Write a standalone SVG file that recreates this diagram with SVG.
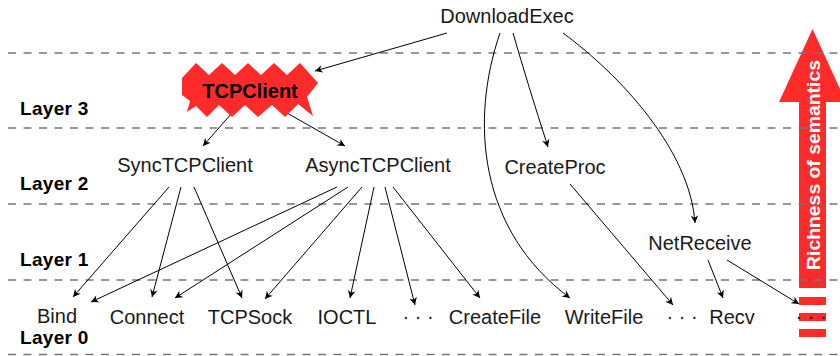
<svg xmlns="http://www.w3.org/2000/svg" width="840" height="356" viewBox="0 0 840 356">
  <defs>
    <marker id="tip" markerUnits="userSpaceOnUse" markerWidth="12" markerHeight="12" viewBox="-9 -6 10 12" refX="0" refY="0" orient="auto">
      <path d="M0,0 L-7.5,-3.8 L-5.3,0 L-7.5,3.8 Z" fill="#000"/>
    </marker>
    <style>
      .lbl { font-family: "Liberation Sans", Arial, sans-serif; font-size: 20px; fill: #1a1a1a; text-anchor: middle; }
      .layer { font-family: "Liberation Sans", Arial, sans-serif; font-size: 19px; font-weight: bold; fill: #000; letter-spacing: 0.3px; }
      .sep { stroke: #777; stroke-width: 1.3; stroke-dasharray: 8 7.5; fill: none; }
      .edge { stroke: #000; stroke-width: 1; fill: none; marker-end: url(#tip); }
      .red { fill: #ff2a2a; }
    </style>
  </defs>

  <rect width="840" height="356" fill="#fff"/>

  <!-- semantics axis: block arrow with a dashed tail -->
  <g id="semantics-axis">
    <polygon class="red" points="812.5,29 846,102 826,102 826,288 799,288 799,102 779,102"/>
    <rect class="red" x="799" y="297" width="27" height="8"/>
    <rect class="red" x="799" y="313" width="27" height="8"/>
    <rect class="red" x="799" y="329" width="27" height="8"/>
  </g>

  <!-- layer separators -->
  <g id="separators">
    <line class="sep" x1="8" y1="53" x2="840" y2="53"/>
    <line class="sep" x1="8" y1="128" x2="840" y2="128"/>
    <line class="sep" x1="8" y1="204" x2="840" y2="204"/>
    <line class="sep" x1="8" y1="280" x2="840" y2="280"/>
    <line class="sep" x1="8" y1="354.5" x2="840" y2="354.5"/>
  </g>

  <text x="820" y="165" transform="rotate(-90 820 165)" font-family="Liberation Sans, Arial, sans-serif" font-size="19" font-weight="bold" fill="#fff" text-anchor="middle" textLength="210" lengthAdjust="spacingAndGlyphs">Richness of semantics</text>

  <!-- layer labels -->
  <g id="layer-labels">
    <text class="layer" x="20" y="115">Layer 3</text>
    <text class="layer" x="20" y="190">Layer 2</text>
    <text class="layer" x="20" y="266">Layer 1</text>
    <text class="layer" x="20" y="344">Layer 0</text>
  </g>

  <!-- connectors -->
  <g id="connectors">
    <path class="edge" d="M447,33 L315,71"/>
    <path class="edge" d="M500,33 C470,120 478,230 570,298"/>
    <path class="edge" d="M513,33 Q528,85 548,147"/>
    <path class="edge" d="M563,33 C620,75 690,150 695,223"/>
    <path class="edge" d="M232,113 L203,146"/>
    <path class="edge" d="M287,113 L345,146"/>
    <path class="edge" d="M169,187 L73,297"/>
    <path class="edge" d="M181,187 L152,297"/>
    <path class="edge" d="M194,187 L242,298"/>
    <path class="edge" d="M337,187 L91,302"/>
    <path class="edge" d="M348,187 L175,298"/>
    <path class="edge" d="M362,187 L265,299"/>
    <path class="edge" d="M374,187 L350,298"/>
    <path class="edge" d="M385,187 L415,305"/>
    <path class="edge" d="M393,187 L480,298"/>
    <path class="edge" d="M570,184 L673,305"/>
    <path class="edge" d="M708,260 L723,298"/>
    <path class="edge" d="M727,260 L799,304"/>
  </g>

  <!-- nodes -->
  <g id="DownloadExec"><text class="lbl" x="507" y="23">DownloadExec</text></g>
  <g id="TCPClient">
    <polygon class="red" points="182,78 196,63 209,75 222,63 235,75 248,63 261,75 274,63 287,75 300,63 318,83 307,97 313,116 298,104 285,117 272,105 258,117 245,105 232,117 219,105 207,117 196,106 187,112 190,101 182,95"/>
    <text x="250" y="98" font-family="Liberation Sans, Arial, sans-serif" font-size="20" font-weight="bold" fill="#000" text-anchor="middle">TCPClient</text>
  </g>
  <g id="SyncTCPClient"><text class="lbl" x="185" y="172">SyncTCPClient</text></g>
  <g id="AsyncTCPClient"><text class="lbl" x="378" y="172">AsyncTCPClient</text></g>
  <g id="CreateProc"><text class="lbl" x="555" y="174">CreateProc</text></g>
  <g id="NetReceive"><text class="lbl" x="700" y="250">NetReceive</text></g>
  <g id="Bind"><text class="lbl" x="57" y="323">Bind</text></g>
  <g id="Connect"><text class="lbl" x="147" y="324">Connect</text></g>
  <g id="TCPSock"><text class="lbl" x="250" y="324">TCPSock</text></g>
  <g id="IOCTL"><text class="lbl" x="347" y="324">IOCTL</text></g>
  <g id="more-1"><text class="lbl" x="418" y="323">· · ·</text></g>
  <g id="CreateFile"><text class="lbl" x="495" y="324">CreateFile</text></g>
  <g id="WriteFile"><text class="lbl" x="604" y="324">WriteFile</text></g>
  <g id="more-2"><text class="lbl" x="682" y="323">· · ·</text></g>
  <g id="Recv"><text class="lbl" x="732" y="324">Recv</text></g>
  <g id="more-3"><text class="lbl" x="811" y="323">· · ·</text></g>
</svg>
